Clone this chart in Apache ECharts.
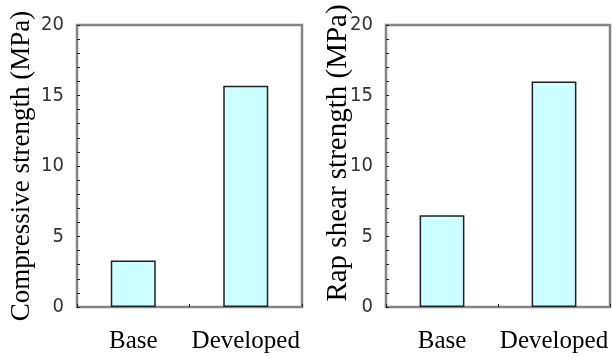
<!DOCTYPE html>
<html>
<head>
<meta charset="utf-8">
<script src="https://cdn.jsdelivr.net/npm/echarts@6/dist/echarts.min.js"></script>
<style>
  html, body { margin: 0; padding: 0; background: #fff; }
  #chart { width: 612px; height: 356px; }
</style>
</head>
<body>
<div id="chart"></div>
<script>
// Categories and measured strengths (MPa)
const categories = ['Base', 'Developed'];
const compressiveStrength = [3.3, 15.7];
const rapShearStrength = [6.5, 16.0];
const yTitles = ['Compressive strength (MPa)', 'Rap shear strength (MPa)'];

const serif = '"Liberation Serif", "Times New Roman", serif';
const narrow = '"Liberation Sans Narrow", "DejaVu Sans Condensed", "Liberation Sans", sans-serif';

const grids = [
  { left: 77, top: 25, width: 225, height: 282 },
  { left: 386, top: 25, width: 224, height: 282 }
];

function xAxisFor(i) {
  return {
    type: 'category',
    gridIndex: i,
    data: categories,
    boundaryGap: true,
    axisLine: { show: false },
    axisTick: { show: true, inside: true, length: 3, lineStyle: { color: '#222', width: 1 } },
    axisLabel: { interval: 0, hideOverlap: false, margin: 22, fontFamily: serif, fontSize: 25, color: '#000' }
  };
}

function yAxisFor(i, gap, size, pad) {
  return {
    type: 'value',
    gridIndex: i,
    min: 0,
    max: 20,
    interval: 1,
    name: yTitles[i],
    nameLocation: 'middle',
    nameRotate: 90,
    nameGap: gap,
    nameMoveOverlap: false,
    nameTextStyle: { fontFamily: serif, fontSize: size, color: '#000', padding: pad },
    axisLine: { show: false },
    splitLine: { show: false },
    axisTick: { show: true, inside: true, length: 3, lineStyle: { color: '#222', width: 1 } },
    axisLabel: {
      margin: 13,
      fontFamily: narrow,
      fontSize: 20,
      color: '#333',
      formatter: v => (v % 5 === 0 ? String(v) : '')
    }
  };
}

function barSeries(i, values) {
  return {
    type: 'bar',
    xAxisIndex: i,
    yAxisIndex: i,
    data: values,
    barWidth: '40%',
    itemStyle: { color: '#ccffff', borderColor: '#222', borderWidth: 1.5 },
    silent: true
  };
}

const chart = echarts.init(document.getElementById('chart'), null, { renderer: 'canvas' });
chart.setOption({
  animation: false,
  backgroundColor: '#fff',
  grid: grids.map(g => Object.assign({ show: true, borderColor: '#858585', borderWidth: 2.5, backgroundColor: 'transparent' }, g)),
  xAxis: [xAxisFor(0), xAxisFor(1)],
  yAxis: [yAxisFor(0, 42, 27, [0, 0, 0, 0]), yAxisFor(1, 33, 29, [0, 0, 0, 26])],
  series: [barSeries(0, compressiveStrength), barSeries(1, rapShearStrength)]
});
</script>
</body>
</html>
